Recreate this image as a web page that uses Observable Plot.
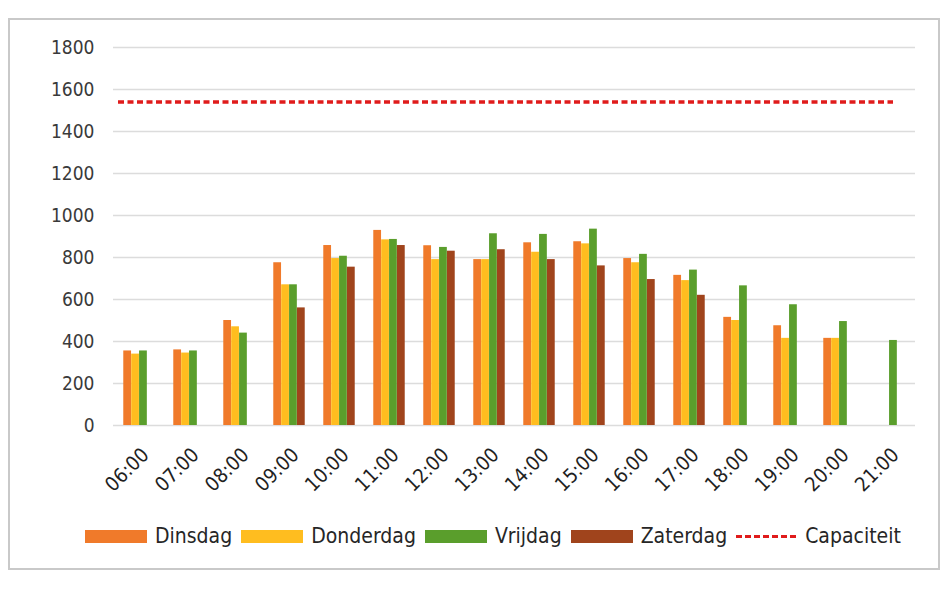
<!DOCTYPE html>
<html>
<head>
<meta charset="utf-8">
<script src="https://cdn.jsdelivr.net/npm/d3@7"></script>
<script src="https://cdn.jsdelivr.net/npm/@observablehq/plot@0.6"></script>
<style>
  html, body { margin: 0; padding: 0; background: #fff; }
  #wrap { position: relative; width: 949px; height: 589px; overflow: hidden;
          font-family: "Liberation Sans Narrow", "DejaVu Sans Condensed", "Open Sans", sans-serif; }
  #frame { position: absolute; left: 8px; top: 18px; width: 932px; height: 552px;
           border: 2px solid #c9c9c9; box-sizing: border-box; }
  #chart { position: absolute; left: 0; top: 0; }
  #legend { position: absolute; left: 85px; top: 524px; display: flex; align-items: center;
            font-size: 21px; color: #262626; white-space: nowrap; }
  .item { display: flex; align-items: center; margin-right: 9px; }
  .sw { width: 62px; height: 13px; margin-right: 8px; }
  .dash { width: 60px; height: 0; border-top: 3.5px dashed #e01b1b; margin-right: 9px; }
</style>
</head>
<body>
<div id="wrap">
  <div id="frame"></div>
  <div id="chart"></div>
  <div id="legend"></div>
</div>
<script>
const hours = ["06:00","07:00","08:00","09:00","10:00","11:00","12:00","13:00","14:00","15:00","16:00","17:00","18:00","19:00","20:00","21:00"];
const dinsdag   = [355, 360, 500, 775, 857, 929, 856, 790, 870, 875, 795, 715, 515, 475, 415, null];
const donderdag = [340, 345, 470, 670, 795, 884, 790, 790, 825, 865, 775, 690, 500, 415, 415, null];
const vrijdag   = [355, 355, 440, 670, 806, 886, 848, 913, 910, 935, 815, 740, 665, 575, 495, 405];
const zaterdag  = [null, null, null, 560, 754, 857, 830, 837, 790, 760, 695, 620, null, null, null, null];
const capaciteit = 1540;
const seriesNames = ["Dinsdag", "Donderdag", "Vrijdag", "Zaterdag"];
const seriesColors = ["#f07a2a", "#ffbd1f", "#5a9e2c", "#a0441c"];
const capColor = "#e01b1b";
const yTicks = [0, 200, 400, 600, 800, 1000, 1200, 1400, 1600, 1800];

const seriesValues = [dinsdag, donderdag, vrijdag, zaterdag];
const rows = [];
seriesNames.forEach((s, i) => hours.forEach((h, j) => {
  const v = seriesValues[i][j];
  if (v != null) rows.push({hour: h, series: s, value: v});
}));

const W = 949, H = 500, ML = 113, MR = 34, MT = 47, MB = 75;
const step = (W - ML - MR) / hours.length;
const groupW = step * 0.63;
const barW = groupW / 4;
const pad = (step - groupW) / 2;

const fontFam = '"Liberation Sans Narrow", "DejaVu Sans Condensed", "Open Sans", sans-serif';

const barMarks = seriesNames.map((s, i) => Plot.barY(rows.filter(r => r.series === s), {
  x: "hour", y: "value", fill: seriesColors[i],
  insetLeft: pad + barW * i, insetRight: step - pad - barW * (i + 1)
}));

const chart = Plot.plot({
  width: W, height: H,
  marginLeft: ML, marginRight: MR, marginTop: MT, marginBottom: MB,
  style: { fontFamily: fontFam, background: "transparent", color: "#333" },
  x: { domain: hours, padding: 0, axis: null, label: null },
  y: { domain: [0, 1800], axis: null, label: null },
  marks: [
    Plot.ruleY(yTicks, { stroke: "#dcdcdc", strokeWidth: 1.3 }),
    ...barMarks,
    Plot.ruleY([capaciteit], { stroke: capColor, strokeWidth: 3.5, strokeDasharray: "6,3.5",
      insetLeft: 5, insetRight: 22 }),
    Plot.axisY({ ticks: yTicks, tickSize: 0, tickPadding: 19, fontSize: 19, tickFormat: d => String(d),
      fill: "#3a3a3a", label: null }),
    Plot.axisX({ tickRotate: -45, tickSize: 0, tickPadding: 26, fontSize: 20, dx: 6,
      fill: "#1f1f1f", label: null })
  ]
});
document.getElementById("chart").appendChild(chart);

const legend = document.getElementById("legend");
seriesNames.forEach((s, i) => {
  const it = document.createElement("div"); it.className = "item";
  const sw = document.createElement("div"); sw.className = "sw"; sw.style.background = seriesColors[i];
  const t = document.createElement("span"); t.textContent = s;
  it.appendChild(sw); it.appendChild(t); legend.appendChild(it);
});
const it = document.createElement("div"); it.className = "item";
const d = document.createElement("div"); d.className = "dash";
const t = document.createElement("span"); t.textContent = "Capaciteit";
it.appendChild(d); it.appendChild(t); legend.appendChild(it);
</script>
</body>
</html>
